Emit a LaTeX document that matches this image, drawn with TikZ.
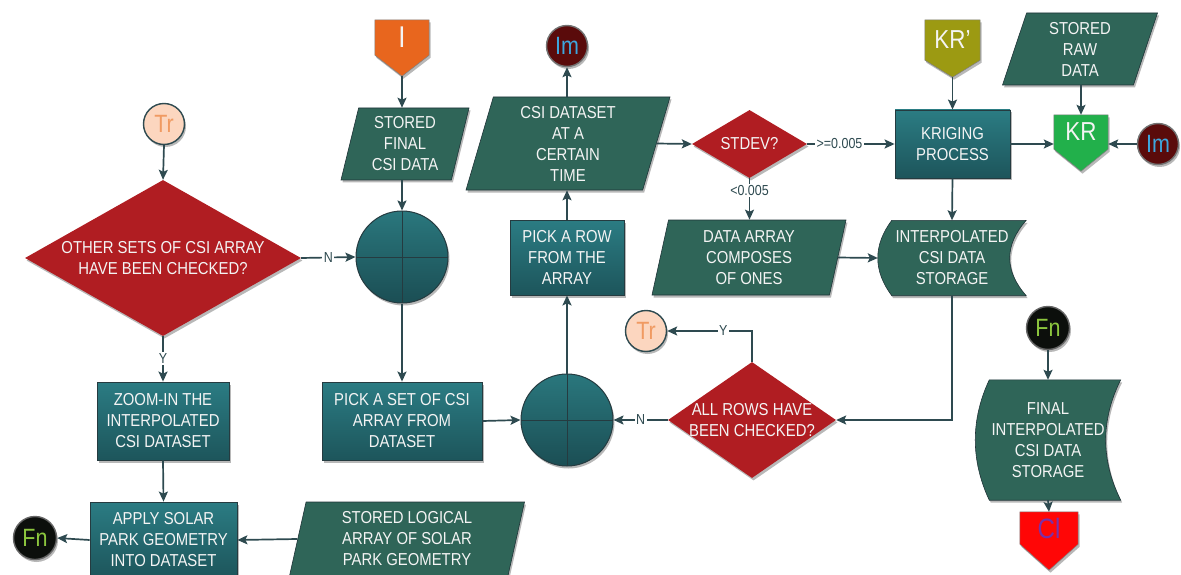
\documentclass[tikz,border=0pt]{standalone}
\usepackage{fontspec}
\setmainfont{Liberation Sans}[FakeStretch=0.86]
\usetikzlibrary{shapes.geometric,arrows.meta,shadows,backgrounds,calc}

\definecolor{wire}{HTML}{2E4A50}
\definecolor{procTop}{HTML}{2B7C83}
\definecolor{procBot}{HTML}{1D555B}
\definecolor{dataFill}{HTML}{2F6558}
\definecolor{decFill}{HTML}{B01D22}
\definecolor{junTop}{HTML}{2A777D}
\definecolor{junBot}{HTML}{1B4E54}
\definecolor{boxText}{HTML}{F4F4F4}
\definecolor{trFill}{HTML}{FCD6BF}
\definecolor{trText}{HTML}{F09A62}
\definecolor{imFill}{HTML}{5A0B0B}
\definecolor{imText}{HTML}{3DA6DE}
\definecolor{fnFill}{HTML}{0C0F0C}
\definecolor{fnText}{HTML}{8CC63E}
\definecolor{iFill}{HTML}{E8661E}
\definecolor{krpFill}{HTML}{9C9A12}
\definecolor{krFill}{HTML}{22B04B}
\definecolor{clFill}{HTML}{FF0606}
\definecolor{clText}{HTML}{7A30A8}

\tikzset{
  softshadow/.style={drop shadow={shadow xshift=1.5pt,shadow yshift=-2.5pt,opacity=0.28,fill=black}},
  txt/.style={font=\fontsize{17.3}{21}\selectfont, text=boxText, align=center, inner sep=0pt},
  proc/.style={txt, rectangle, draw=wire!80!black, line width=0.8pt,
    top color=procTop, bottom color=procBot, softshadow},
  iobox/.style={txt, trapezium, trapezium stretches body, draw=wire!70!black,
    line width=0.6pt, fill=dataFill, softshadow},
  decbox/.style={diamond, inner sep=0pt, fill=decFill, softshadow},
  junction/.style={circle, minimum size=92pt, inner sep=0pt, draw=wire!80!black,
    line width=1pt, top color=junTop, bottom color=junBot, softshadow,
    path picture={\draw[wire!80!black, line width=1pt]
      (path picture bounding box.north) -- (path picture bounding box.south)
      (path picture bounding box.west) -- (path picture bounding box.east);}},
  refc/.style={circle, inner sep=0pt, line width=1.4pt, softshadow,
    font=\fontsize{25}{25}\selectfont},
  trc/.style={refc, minimum size=41pt, draw=wire, fill=trFill, text=trText},
  imc/.style={refc, minimum size=41pt, draw=black!55, fill=imFill, text=imText},
  fnc/.style={refc, minimum size=43pt, draw=black!60, fill=fnFill, text=fnText},
  pent/.style={txt, inner sep=0pt},
  flow/.style={draw=wire, line width=1.7pt, -{Stealth[length=10pt,width=9pt,inset=2pt]}},
  lbl/.style={fill=white, inner sep=1.5pt, text=wire, font=\fontsize{14.5}{15}\selectfont}
}

\begin{document}
\begin{tikzpicture}[x=1pt,y=-1pt]
\useasboundingbox (0,0) rectangle (1181,575);

% ---- left column
\node[trc] (Tr1) at (164,124) {Tr};
\node[decbox, minimum width=276pt, minimum height=156pt,
  label={[txt]center:{OTHER SETS OF CSI ARRAY\\HAVE BEEN CHECKED?}}] (D1) at (163,258) {};
\node[proc, minimum width=132pt, minimum height=78pt] (ZI) at (163,421)
  {ZOOM-IN THE\\INTERPOLATED\\CSI DATASET};
\node[proc, minimum width=147pt, minimum height=76pt] (AS) at (163.5,540)
  {APPLY SOLAR\\PARK GEOMETRY\\INTO DATASET};
\node[iobox, minimum width=235pt, minimum height=74pt,
  trapezium left angle=73, trapezium right angle=107] (SL) at (407,539)
  {STORED LOGICAL\\ARRAY OF SOLAR\\PARK GEOMETRY};
\node[fnc] (Fn1) at (35,538) {Fn};

% ---- second column
\node[pent, minimum width=54pt, minimum height=35pt] (I) at (402,37.5)
  {\fontsize{30}{30}\selectfont I};
\node[iobox, minimum width=128pt, minimum height=72pt,
  trapezium left angle=72, trapezium right angle=108] (SF) at (405,144)
  {STORED\\FINAL\\CSI DATA};
\node[junction] (C1) at (402,257) {};
\node[proc, minimum width=160pt, minimum height=78pt] (PS) at (402,421)
  {PICK A SET OF CSI\\ARRAY FROM\\DATASET};

% ---- third column
\node[imc] (Im1) at (567,46) {Im};
\node[iobox, minimum width=204pt, minimum height=93pt,
  trapezium left angle=70, trapezium right angle=110] (CSI) at (568,143.5)
  {CSI DATASET\\AT A\\CERTAIN\\TIME};
\node[proc, minimum width=114pt, minimum height=75pt] (PR) at (567,257.5)
  {PICK A ROW\\FROM THE\\ARRAY};
\node[junction] (C2) at (567,420) {};
\node[trc] (Tr2) at (646,331) {Tr};
\node[decbox, minimum width=168pt, minimum height=116pt,
  label={[txt]center:{ALL ROWS HAVE\\BEEN CHECKED?}}] (D2) at (752,420) {};

% ---- fourth column
\node[decbox, minimum width=115pt, minimum height=68pt,
  label={[txt]center:STDEV?}] (STD) at (749.5,144) {};
\node[iobox, minimum width=194pt, minimum height=75pt,
  trapezium left angle=73, trapezium right angle=107] (DA) at (749,257.5)
  {DATA ARRAY\\COMPOSES\\OF ONES};

% ---- right part
\node[pent, minimum width=55pt, minimum height=40pt] (KRp) at (952.5,40)
  {\fontsize{26}{26}\selectfont KR’};
\node[proc, minimum width=115pt, minimum height=68pt] (KP) at (952.5,144)
  {KRIGING\\PROCESS};
\node[txt, minimum width=148pt, minimum height=75pt] (IS) at (952,258)
  {INTERPOLATED\\CSI DATA\\STORAGE};
\node[iobox, minimum width=155pt, minimum height=72pt,
  trapezium left angle=66, trapezium right angle=114] (SRD) at (1080,49)
  {STORED\\RAW\\DATA};
\node[pent, minimum width=54pt, minimum height=34pt] (KR) at (1081,132)
  {\fontsize{26}{26}\selectfont KR};
\node[imc] (Im2) at (1158,144) {Im};
\node[fnc] (Fn2) at (1048,328) {Fn};
\node[txt, minimum width=145pt, minimum height=120pt] (FS) at (1048,440)
  {FINAL\\INTERPOLATED\\CSI DATA\\STORAGE};
\node[pent, minimum width=58pt, minimum height=32pt] (Cl) at (1049,528)
  {\fontsize{28}{28}\selectfont\color{clText}Cl};

% tips of the off-page pentagons
\coordinate (Itip) at ($(I.south)+(0,21)$);
\coordinate (KRptip) at ($(KRp.south)+(0,17)$);
\coordinate (KRtip) at ($(KR.south)+(0,22)$);
\coordinate (Cltip) at ($(Cl.south)+(0,26)$);

\begin{scope}[on background layer]
  \fill[white] (0,0) rectangle (1181,575);
  % off-page pentagons
  \path[softshadow, fill=iFill, draw=black!50, line width=0.5pt]
    (I.north west) -- (I.north east) -- (I.south east) -- (Itip) -- (I.south west) -- cycle;
  \path[softshadow, fill=krpFill, draw=black!50, line width=0.5pt]
    (KRp.north west) -- (KRp.north east) -- (KRp.south east) -- (KRptip) -- (KRp.south west) -- cycle;
  \path[softshadow, fill=krFill, draw=black!50, line width=0.5pt]
    (KR.north west) -- (KR.north east) -- (KR.south east) -- (KRtip) -- (KR.south west) -- cycle;
  \path[softshadow, fill=clFill, draw=black!50, line width=0.5pt]
    (Cl.north west) -- (Cl.north east) -- (Cl.south east) -- (Cltip) -- (Cl.south west) -- cycle;
  % stored-data shapes
  \path[softshadow, fill=dataFill, draw=wire!70!black, line width=0.6pt]
    ($(IS.north west)+(14,0)$) -- (IS.north east)
    .. controls ($(IS.north east)+(-22,25)$) and ($(IS.south east)+(-22,-25)$) .. (IS.south east)
    -- ($(IS.south west)+(14,0)$)
    .. controls ($(IS.south west)+(-4.7,-25)$) and ($(IS.north west)+(-4.7,25)$) .. cycle;
  \path[softshadow, fill=dataFill, draw=wire!70!black, line width=0.6pt]
    ($(FS.north west)+(14,0)$) -- (FS.north east)
    .. controls ($(FS.north east)+(-20,40)$) and ($(FS.south east)+(-20,-40)$) .. (FS.south east)
    -- ($(FS.south west)+(14,0)$)
    .. controls ($(FS.south west)+(-4.7,-40)$) and ($(FS.north west)+(-4.7,40)$) .. cycle;
\end{scope}

% ---- connectors
\draw[flow] (Tr1.south) -- (D1.north);
\draw[flow] (D1.east) -- node[lbl]{N} (C1.west);
\draw[flow] (D1.south) -- node[lbl]{Y} (ZI.north);
\draw[flow] (ZI.south) -- (AS.north);
\draw[flow] (SL.west) -- (AS.east);
\draw[flow] (AS.west) -- (Fn1.east);
\draw[flow] (Itip) -- (Itip |- SF.north);
\draw[flow] (SF.south -| C1.north) -- (C1.north);
\draw[flow] (C1.south) -- (PS.north);
\draw[flow] (PS.east) -- (C2.west);
\draw[flow] (D2.west) -- node[lbl]{N} (C2.east);
\draw[flow] (D2.north) |- node[lbl,pos=0.67]{Y} (Tr2.east);
\draw[flow] (C2.north) -- (PR.south);
\draw[flow] (PR.north) -- (PR.north |- CSI.south);
\draw[flow] (CSI.north -| Im1.south) -- (Im1.south);
\draw[flow] (CSI.east) -- (STD.west);
\draw[flow] (STD.east) -- node[lbl,pos=0.37]{>=0.005} (KP.west);
\draw[flow] (STD.south) -- node[lbl,pos=0.3]{<0.005} (STD.south |- DA.north);
\draw[flow] (DA.east) -- (IS.west);
\draw[flow] (KRptip) -- (KP.north);
\draw[flow] (KP.south) -- (IS.north);
\draw[flow] (KP.east) -- (KP.east -| KR.west);
\draw[flow] (Im2.west) -- (Im2.west -| KR.east);
\draw[flow] (SRD.south -| KR.north) -- (KR.north);
\draw[flow] (IS.south) |- (D2.east);
\draw[flow] (Fn2.south) -- (FS.north);
\draw[flow] (FS.south) -- (Cl.north);
\end{tikzpicture}
\end{document}
